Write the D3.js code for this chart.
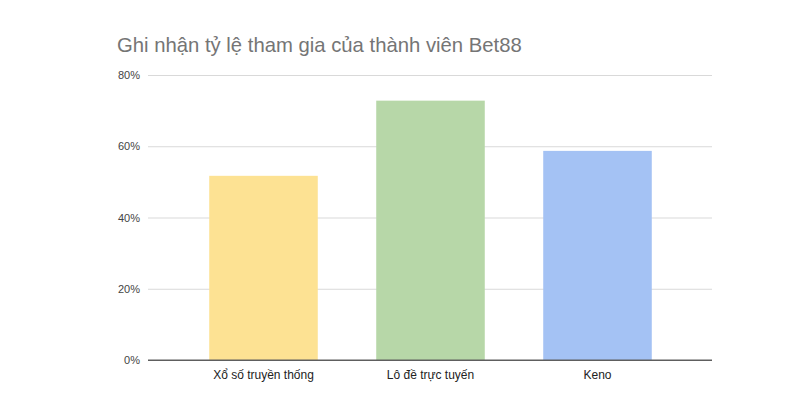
<!DOCTYPE html>
<html lang="vi">
<head>
    <meta charset="utf-8">
    <script src="https://d3js.org/d3.v7.min.js"></script>
</head>
<style>
    body { margin: 0; background: #fff; }
    text { font-family: Arial, "Liberation Sans", sans-serif; }
</style>
<body>
    <script>
        const w = 800
        const h = 400

        // data
        const categories = ["Xổ số truyền thống", "Lô đề trực tuyến", "Keno"]
        const values = [0.517, 0.728, 0.587]
        const colors = ["#fde293", "#b7d7a8", "#a4c2f4"]
        const yTicks = [0, 0.2, 0.4, 0.6, 0.8]
        const title = "Ghi nhận tỷ lệ tham gia của thành viên Bet88"

        var svg = d3.select("body")
            .append("svg")
            .attr("width", w)
            .attr("height", h)

        // plot area ("top" is taken by window, so prefix these)
        const plotLeft = 148, plotRight = 712, plotTop = 75, plotBottom = 360

        let xScale = d3.scaleBand()
            .domain(categories)
            .range([180, 681])
            .paddingInner(0.35)
            .paddingOuter(0.175)

        let yScale = d3.scaleLinear()
            .domain([0, 0.8])
            .range([plotBottom, plotTop])

        // title
        svg.append("text")
            .attr("x", 117)
            .attr("y", 52)
            .attr("font-size", 20.3)
            .attr("fill", "#757575")
            .text(title)

        // gridlines + y labels
        const yAxis = d3.axisLeft(yScale)
            .tickValues(yTicks)
            .tickFormat(d3.format(".0%"))
            .tickSize(-(plotRight - plotLeft))
            .tickPadding(8)

        const gy = svg.append("g")
            .attr("transform", `translate(${plotLeft},0)`)
            .call(yAxis)
        gy.select(".domain").remove()
        gy.selectAll(".tick line")
            .attr("stroke", d => d === 0 ? "#5f5f5f" : "#d9d9d9")
        gy.selectAll(".tick text")
            .attr("font-size", 11)
            .attr("fill", "#444")
            .style("font-family", "Arial, 'Liberation Sans', sans-serif")

        // bars
        svg.selectAll(".bar")
            .data(values)
            .enter()
            .append("rect")
            .attr("class", "bar")
            .attr("x", (d, i) => xScale(categories[i]))
            .attr("y", d => yScale(d))
            .attr("width", xScale.bandwidth())
            .attr("height", d => yScale(0) - yScale(d))
            .attr("fill", (d, i) => colors[i])

        // redraw baseline on top
        svg.append("line")
            .attr("x1", plotLeft).attr("x2", plotRight)
            .attr("y1", yScale(0)).attr("y2", yScale(0))
            .attr("stroke", "#5f5f5f")

        // x labels
        const xAxis = d3.axisBottom(xScale).tickSize(0).tickPadding(10)
        const gx = svg.append("g")
            .attr("transform", `translate(0,${plotBottom})`)
            .call(xAxis)
        gx.select(".domain").remove()
        gx.selectAll(".tick text")
            .attr("font-size", 12)
            .attr("fill", "#222")
            .style("font-family", "Arial, 'Liberation Sans', sans-serif")
    </script>
</body>
</html>
